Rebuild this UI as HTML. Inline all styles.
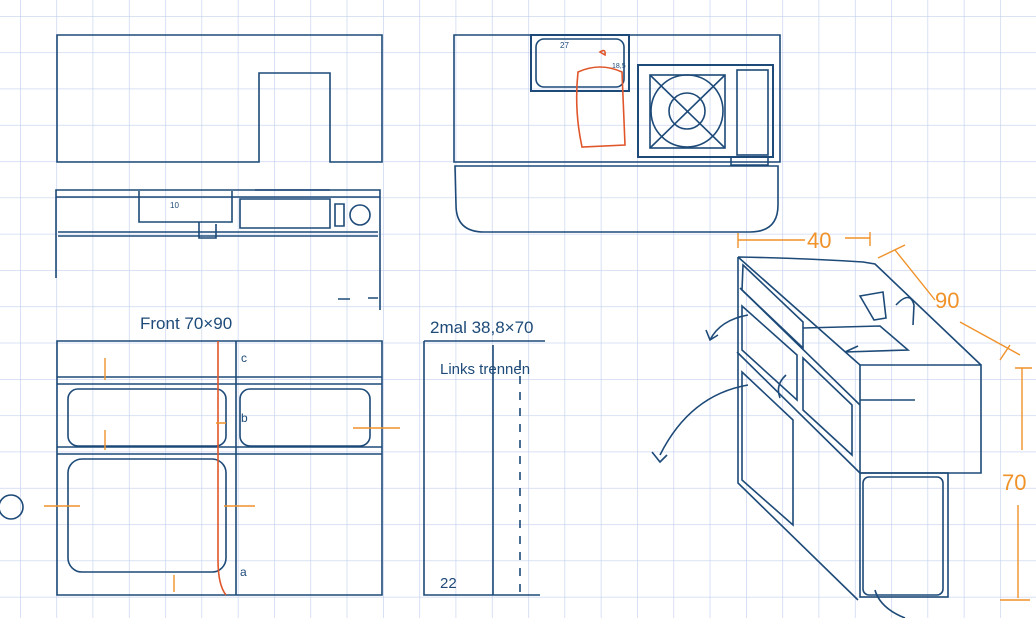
<!DOCTYPE html>
<html><head><meta charset="utf-8"><style>
html,body{margin:0;padding:0;background:#fff}
svg{display:block}
text{font-family:"Liberation Sans",sans-serif}
</style></head><body>
<svg width="1036" height="618" viewBox="0 0 1036 618" xmlns="http://www.w3.org/2000/svg">
<defs>
<pattern id="g" x="20" y="16" width="36.3" height="36.3" patternUnits="userSpaceOnUse">
<path d="M0 0V36.3M0 0H36.3" stroke="#c3d0ee" stroke-width="1.3" fill="none"/>
</pattern>
</defs>
<rect width="1036" height="618" fill="url(#g)"/>
<g fill="none" stroke="#1d4a78" stroke-width="1.6">
<path d="M57 35H382V162H330V73H259V162H57Z"/>
<path d="M56 190H380V197H56Z M56 197V278 M380 197V310 M58 232H378 M58 236H378"/>
<path d="M139 191V222H232V191 M199 222V238H216V224 M240 199H330V228H240Z M255 190H330 M335 204H344V226H335Z"/>
<circle cx="360" cy="215" r="10"/>
<path d="M338 299H350 M368 298H378"/>
<path d="M454 35H780V162H454Z"/>
<path d="M455 166H778V205Q778 232 750 232H484Q456 232 456 205Z"/>
<rect x="531" y="35" width="98" height="56" stroke-width="2"/>
<rect x="536" y="39" width="88" height="48" rx="8"/>
<rect x="638" y="65" width="135" height="92" stroke-width="2"/>
<rect x="650" y="75" width="75" height="73"/>
<circle cx="687" cy="111" r="36"/><circle cx="687" cy="111" r="18"/>
<path d="M650 75L725 148M725 75L650 148"/>
<rect x="737" y="70" width="31" height="85"/>
<path d="M731 158V165H768V158"/>
<path d="M57 341H382V595H57Z M57 377H382 M57 384H382 M57 447H382 M57 454H382 M236 341V595"/>
<rect x="68" y="389" width="158" height="57" rx="10"/>
<rect x="240" y="389" width="130" height="57" rx="10"/>
<rect x="68" y="459" width="158" height="113" rx="14"/>
<path d="M424 341H545 M424 341V595H540 M493 345V595"/>
<path d="M520 360V595" stroke-dasharray="8 8"/>
<!-- sketch 3d -->
<path d="M738 257Q800 258 863 262L875 264L981 365 M738 257L860 365"/>
<path d="M860 365H981V473H860Z M860 400H915"/>
<path d="M738 257V483L858 600 M740 288L860 405 M737 352L860 473"/>
<rect x="860" y="473" width="88" height="124"/>
<rect x="863" y="477" width="80" height="118" rx="6"/>
<path d="M743 265L803 322V348L742 290Z"/>
<path d="M742 306L797 355V400L742 350Z"/>
<path d="M742 372L793 420V525L742 480Z"/>
<path d="M803 358L852 405V455L803 410Z"/>
<path d="M803 328L880 326L908 350L845 352L858 346"/>
<path d="M860 296L883 292L886 318L874 320Z M896 305Q910 290 914 305L913 325"/>
<path d="M748 315Q720 320 710 340 M706 330L710 340L718 335"/>
<path d="M748 385Q690 395 660 455 M652 452L660 462L667 455"/>
<path d="M786 375Q775 385 780 398 M875 590Q880 608 905 618"/>
</g>
<circle cx="11" cy="507" r="12" fill="none" stroke="#1d4a78" stroke-width="1.6"/>
<g fill="none" stroke="#e0562a" stroke-width="1.6">
<path d="M578 72Q600 62 622 72L625 145L582 147Q574 110 578 72Z"/>
<path d="M600 52Q606 48 605 55Z"/>
<path d="M218 341V560Q218 585 226 595"/>
</g>
<g fill="none" stroke="#f0922a" stroke-width="1.4">
<path d="M105 358V380 M105 430V450 M216 423H226 M353 428H400 M44 506H80 M224 506H255 M174 575V592"/>
<path d="M738 233V248 M738 240H805 M845 238H870 M870 232V246 M878 258L905 245 M895 250L935 300 M960 322L1020 355 M1010 345L1000 360 M1022 368V450 M1015 368H1032 M1018 505V598 M1000 600H1030"/>
</g>
<g fill="#1d4a78" font-size="17">
<text x="140" y="329">Front 70×90</text>
<text x="430" y="333">2mal 38,8×70</text>
<text x="440" y="374" font-size="15">Links trennen</text>
<text x="440" y="588" font-size="15">22</text>
<text x="241" y="362" font-size="12">c</text>
<text x="241" y="422" font-size="12">b</text>
<text x="240" y="576" font-size="12">a</text>
<text x="170" y="208" font-size="8">10</text>
<text x="560" y="48" font-size="8">27</text>
<text x="612" y="68" font-size="7">18,5</text>
</g>
<g fill="#f0922a" font-size="22">
<text x="807" y="248">40</text>
<text x="935" y="308">90</text>
<text x="1002" y="490">70</text>
</g>
</svg>
</body></html>
